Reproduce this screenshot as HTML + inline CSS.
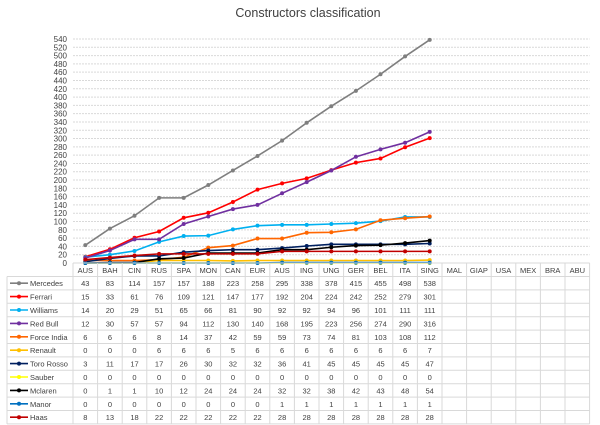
<!DOCTYPE html>
<html><head><meta charset="utf-8"><style>
body{margin:0;background:#fff;font-family:"Liberation Sans",sans-serif}
svg{display:block}
</style></head><body>
<svg id="c" width="600" height="425" xmlns="http://www.w3.org/2000/svg">
<text x="308" y="17" text-anchor="middle" font-size="12.5" fill="#404040">Constructors classification</text>
</svg>
<script>
const races = ["AUS","BAH","CIN","RUS","SPA","MON","CAN","EUR","AUS","ING","UNG","GER","BEL","ITA","SING","MAL","GIAP","USA","MEX","BRA","ABU"];
const teams = ["Mercedes","Ferrari","Williams","Red Bull","Force India","Renault","Toro Rosso","Sauber","Mclaren","Manor","Haas"];
const colors = ["#7f7f7f","#ff0000","#00b0f0","#7030a0","#ff6600","#ffc000","#002060","#ffff00","#000000","#0070c0","#c00000"];
const mercedes = [43,83,114,157,157,188,223,258,295,338,378,415,455,498,538];
const ferrari = [15,33,61,76,109,121,147,177,192,204,224,242,252,279,301];
const williams = [14,20,29,51,65,66,81,90,92,92,94,96,101,111,111];
const redbull = [12,30,57,57,94,112,130,140,168,195,223,256,274,290,316];
const forceindia = [6,6,6,8,14,37,42,59,59,73,74,81,103,108,112];
const renault = [0,0,0,6,6,6,5,6,6,6,6,6,6,6,7];
const tororosso = [3,11,17,17,26,30,32,32,36,41,45,45,45,45,47];
const sauber = [0,0,0,0,0,0,0,0,0,0,0,0,0,0,0];
const mclaren = [0,1,1,10,12,24,24,24,32,32,38,42,43,48,54];
const manor = [0,0,0,0,0,0,0,0,1,1,1,1,1,1,1];
const haas = [8,13,18,22,22,22,22,22,28,28,28,28,28,28,28];
const yTicks = [0,20,40,60,80,100,120,140,160,180,200,220,240,260,280,300,320,340,360,380,400,420,440,460,480,500,520,540];
const series = [mercedes,ferrari,williams,redbull,forceindia,renault,tororosso,sauber,mclaren,manor,haas];

const NS="http://www.w3.org/2000/svg", svg=document.getElementById('c');
const x0=73, cw=24.6, y0=263, yTop=39, yMax=540;
const X=i=>x0+cw*(i+0.5);
const Y=v=>y0-(v/yMax)*(y0-yTop);
function mk(t,a,p){const e=document.createElementNS(NS,t);for(const k in a)e.setAttribute(k,a[k]);(p||svg).appendChild(e);return e;}

yTicks.forEach(t=>{
  const g=mk('line',{x1:x0,x2:x0+cw*races.length,y1:Y(t),y2:Y(t),stroke:'#d9d9d9','stroke-width':1,'stroke-dasharray':t===0?'':'2,1'});
  
  
  const l=mk('text',{x:x0-6,y:Y(t)+3,'text-anchor':'end','font-size':8,fill:'#404040'});
  l.textContent=t;
  
  
});

series.forEach((s,k)=>{
  const pts=s.map((v,i)=>X(i)+','+Y(v)).join(' ');
  const pl=mk('polyline',{points:pts,fill:'none',stroke:colors[k],'stroke-width':1.6});
  
  
  s.forEach((v,i)=>{
    const c=mk('circle',{cx:X(i),cy:Y(v),r:2,fill:colors[k]});
    
    
  });
});

// table
const tTop=263, hdrH=13.5, rowH=13.4, labX=7;
const tb=mk('g',{});


const tEnd=x0+cw*races.length, tBot=tTop+hdrH+rowH*teams.length;
for(let i=0;i<=races.length;i++){mk('line',{x1:x0+cw*i,x2:x0+cw*i,y1:tTop,y2:tBot,stroke:'#d9d9d9'},tb);}
mk('line',{x1:x0,x2:tEnd,y1:tTop,y2:tTop,stroke:'#d9d9d9'},tb);
for(let r=0;r<=teams.length;r++){const y=tTop+hdrH+rowH*r;mk('line',{x1:labX,x2:tEnd,y1:y,y2:y,stroke:'#d9d9d9'},tb);}
mk('line',{x1:labX,x2:labX,y1:tTop+hdrH,y2:tBot,stroke:'#d9d9d9'},tb);
races.forEach((r,i)=>{
  const t=mk('text',{x:X(i),y:tTop+10,'text-anchor':'middle','font-size':7.5,fill:'#404040'},tb);
  t.textContent=r;
  
  
});
teams.forEach((tm,k)=>{
  const yc=tTop+hdrH+rowH*k+rowH/2;
  mk('line',{x1:10,x2:28,y1:yc,y2:yc,stroke:colors[k],'stroke-width':1.6},tb);
  mk('circle',{cx:19,cy:yc,r:2,fill:colors[k]},tb);
  const t=mk('text',{x:30,y:yc+3,'font-size':7.5,fill:'#404040'},tb);
  t.textContent=tm;
  
  
  series[k].forEach((v,i)=>{
    const c=mk('text',{x:X(i),y:yc+3,'text-anchor':'middle','font-size':7.5,fill:'#404040'},tb);
    c.textContent=v;
    
    
  });
});
</script>
</body></html>
